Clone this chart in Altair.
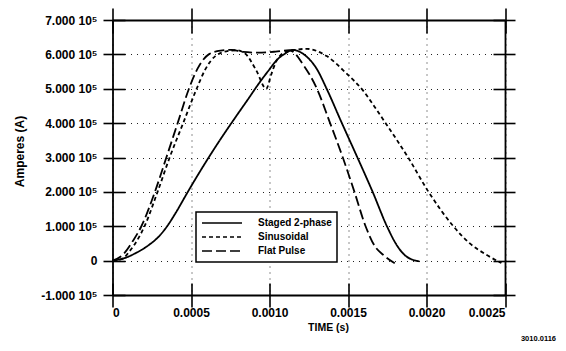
import altair as alt
import pandas as pd

series_names = ["Staged 2-phase", "Sinusoidal", "Flat Pulse"]

# time in seconds, current in units of 1e5 A
staged_t = [0, 0.000068, 0.000152, 0.000236, 0.000299, 0.000351, 0.000404, 0.000467, 0.000529, 0.000592,
            0.000676, 0.00078, 0.000864, 0.000927, 0.000989, 0.001052, 0.001102, 0.001146, 0.001219, 0.001302,
            0.001364, 0.001461, 0.00156, 0.001657, 0.001748, 0.001812, 0.001864, 0.001909, 0.001955]
staged_a = [0, 0.06, 0.23, 0.47, 0.72, 1.02, 1.4, 1.9, 2.38, 2.85,
            3.45, 4.15, 4.7, 5.12, 5.5, 5.86, 6.03, 6.13, 6.0, 5.57,
            5.0, 4.0, 3.0, 2.0, 1.0, 0.44, 0.15, 0.03, -0.02]

sinus_t = [0, 0.00006, 0.00011, 0.000204, 0.000287, 0.000364, 0.00045, 0.000536, 0.000592, 0.000655,
           0.000738, 0.000788, 0.000843, 0.000915, 0.000979, 0.00101, 0.001041, 0.001104, 0.001239, 0.001364,
           0.001489, 0.001599, 0.00167, 0.001744, 0.001883, 0.002013, 0.002171, 0.002276, 0.002378,
           0.002477]
sinus_a = [0, 0.05, 0.28, 1.0, 2.0, 3.0, 4.0, 5.0, 5.57, 5.95,
           6.1, 6.12, 6.03, 5.54, 5.0, 5.4, 5.78, 6.07, 6.16, 5.95,
           5.45, 4.93, 4.47, 3.97, 3.0, 2.0, 1.0, 0.5, 0.18,
           -0.07]

flat_t = [0, 0.000068, 0.000131, 0.000184, 0.00027, 0.000343, 0.000415, 0.000487, 0.00054, 0.000613,
          0.000688, 0.000757, 0.000832, 0.000926, 0.001039, 0.001127, 0.001219, 0.001302, 0.001386, 0.001467,
          0.001541, 0.001612, 0.001671, 0.001729, 0.001798]
flat_a = [0, 0.18, 0.58, 1.0, 2.0, 3.0, 4.0, 5.0, 5.57, 6.0,
          6.11, 6.13, 6.07, 6.05, 6.08, 6.12, 5.67, 5.0, 4.0, 3.0,
          2.0, 1.0, 0.42, 0.15, -0.08]

x_ticks = [0, 0.0005, 0.0010, 0.0015, 0.0020, 0.0025]
y_ticks = [-100000, 0, 100000, 200000, 300000, 400000, 500000, 600000, 700000]
note_text = ["3010.0116"]

rows = []
for name, ts, vals in zip(series_names, [staged_t, sinus_t, flat_t], [staged_a, sinus_a, flat_a]):
    for t, v in zip(ts, vals):
        rows.append({"series": name, "t": t, "a": v * 1e5})
df = pd.DataFrame(rows)

FONT = "Liberation Sans"
xscale = alt.Scale(domain=[0, 0.0025], nice=False, zero=False)
yscale = alt.Scale(domain=[-100000, 700000], nice=False, zero=False)

xlab = "datum.value == 0 ? '0' : format(datum.value, '.4f')"
ylab = "datum.value == 0 ? '0' : (datum.value < 0 ? '-' : '') + format(abs(datum.value) / 100000, '.3f') + ' 10\u2075'"

common = dict(domainColor="black", tickColor="black", tickWidth=1.6, labelColor="black")

x_main = alt.Axis(orient="bottom", values=x_ticks, labelExpr=xlab, title="TIME (s)", tickSize=12,
                  labelPadding=0, labelFont=FONT, labelFontSize=12, labelFontWeight="bold",
                  grid=True, gridDash=[1, 5], gridColor="#222", gridWidth=1,
                  domainWidth=1.8, titleX=215.5, titleY=35, titleAlign="center",
                  titleBaseline="alphabetic", titleFont=FONT, titleFontSize=10.5,
                  titleFontWeight="bold", titleColor="black", **common)
y_main = alt.Axis(orient="left", values=y_ticks, labelExpr=ylab, title="Amperes (A)", tickSize=9.5,
                  labelPadding=6, labelFont=FONT, labelFontSize=12, labelFontWeight="bold",
                  grid=True, gridDash=[1, 5], gridColor="#222", gridWidth=1,
                  domainWidth=1.8, titleX=-93.5, titleY=131, titleAngle=270, titleAlign="center",
                  titleBaseline="middle", titleFont=FONT, titleFontSize=12, titleFontWeight="bold",
                  titleColor="black", **common)

def plain_axis(orient, values, size, offset, domain):
    return alt.Axis(orient=orient, values=values, tickSize=size, offset=offset, domain=domain,
                    domainWidth=1.8, labels=False, title=None, grid=False, **common)

lines = alt.Chart(df).mark_line(strokeWidth=1.8, color="black", interpolate="monotone").encode(
    x=alt.X("t:Q", scale=xscale, axis=x_main),
    y=alt.Y("a:Q", scale=yscale, axis=y_main),
    strokeDash=alt.StrokeDash(
        "series:N",
        scale=alt.Scale(domain=series_names, range=[[1, 0], [4, 3], [10, 4]]),
        sort=series_names,
        legend=alt.Legend(
            title=None, orient="none", legendX=83.5, legendY=192, fillColor="white",
            strokeColor="black", padding=5, cornerRadius=0,
            symbolType="stroke", symbolSize=1600, symbolStrokeWidth=1.6, symbolStrokeColor="black",
            labelFont=FONT, labelFontSize=10, labelFontWeight="bold", labelColor="black",
            labelOffset=15, clipHeight=12, rowPadding=2,
        ),
    ),
)

def hidden(xaxis, yaxis):
    return alt.Chart(df).mark_line(opacity=0).encode(
        x=alt.X("t:Q", scale=xscale, axis=xaxis),
        y=alt.Y("a:Q", scale=yscale, axis=yaxis),
        detail="series:N",
    )

inner_bl = hidden(plain_axis("bottom", x_ticks, 12, -12, False), plain_axis("left", y_ticks, 12.5, -12.5, False))
outer_tr = hidden(plain_axis("top", x_ticks, 12, 0, True), plain_axis("right", y_ticks, 10, 0, True))
inner_tr = hidden(plain_axis("top", x_ticks, 13, -13, False), plain_axis("right", y_ticks, 12, -12, False))

note = alt.Chart(pd.DataFrame({"label": note_text})).mark_text(
    align="right", baseline="alphabetic", font=FONT, fontSize=7.5, fontWeight="bold", color="black"
).encode(x=alt.value(443.5), y=alt.value(321), text="label:N")

chart = alt.layer(inner_bl, outer_tr, inner_tr, lines, note).resolve_axis(
    x="independent", y="independent"
).properties(
    width=392.5, height=275,
    autosize=alt.AutoSizeParams(type="none"),
    padding={"left": 104.5, "top": 12, "right": 52, "bottom": 48},
).configure_view(stroke=None).configure_legend(strokeWidth=1.5)

chart.save("out.html", embed_options={"renderer": "svg", "actions": False})
